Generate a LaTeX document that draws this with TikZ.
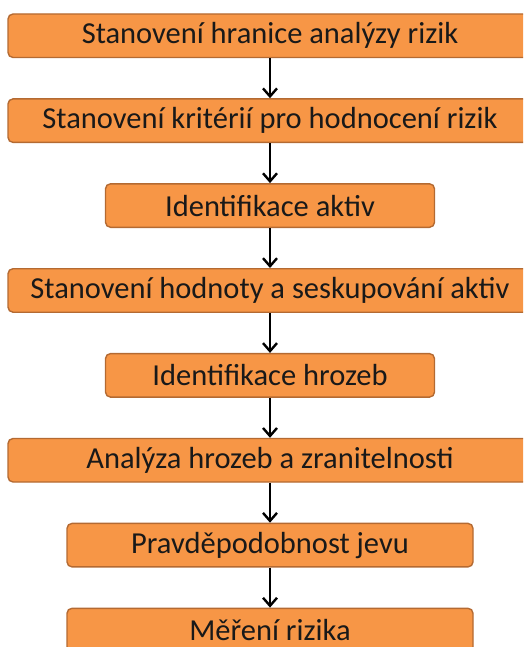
\documentclass[tikz,border=0pt]{standalone}
\usepackage{fontspec}
\setmainfont{Carlito}
\usetikzlibrary{arrows.meta, positioning}
\definecolor{boxfill}{HTML}{F79646}
\definecolor{boxline}{HTML}{B46A32}

\begin{document}
\begin{tikzpicture}[x=1pt, y=-1pt,
            node distance=40pt,
            stage/.style={draw=boxline, line width=1.4pt, rounded corners=5pt, fill=boxfill, align=center, minimum height=43.5pt, inner sep=0pt, font=\fontsize{30.5}{32}\selectfont, text=black!90},
            wide/.style={stage, minimum width=524pt},
            mid/.style={stage, minimum width=329pt},
            narrow/.style={stage, minimum width=406pt},
            arrow/.style={-{Straight Barb[length=8pt, width=14pt, line width=2.4pt]}, line width=2.8pt}
        ]
            \useasboundingbox (0,0) rectangle (523,647);
            \clip (0,0) rectangle (523,647);
            \node[wide] (hranice) at (270,35.75) {Stanovení hranice analýzy rizik};
            \node[wide, below=of hranice] (kriteria) {Stanovení kritérií pro hodnocení rizik};
            \node[mid, below=of kriteria] (aktiva) {Identifikace aktiv};
            \node[wide, below=of aktiva] (hodnota) {Stanovení hodnoty a seskupování aktiv};
            \node[mid, below=of hodnota] (hrozby) {Identifikace hrozeb};
            \node[wide, below=of hrozby] (analyza) {Analýza hrozeb a zranitelnosti};
            \node[narrow, below=of analyza] (jev) {Pravděpodobnost jevu};
            \node[narrow, below=of jev] (riziko) {Měření rizika};
            \draw[arrow] (hranice) -- (kriteria);
            \draw[arrow] (kriteria) -- (aktiva);
            \draw[arrow] (aktiva) -- (hodnota);
            \draw[arrow] (hodnota) -- (hrozby);
            \draw[arrow] (hrozby) -- (analyza);
            \draw[arrow] (analyza) -- (jev);
            \draw[arrow] (jev) -- (riziko);
        \end{tikzpicture}
\end{document}
